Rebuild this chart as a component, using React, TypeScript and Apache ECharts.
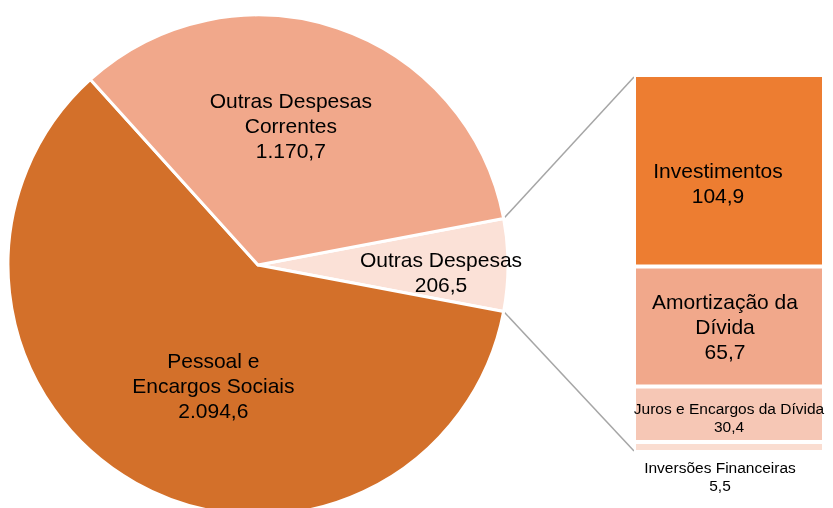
import React, { useEffect, useRef } from "react";
import * as echarts from "echarts";

const pieNames = ["Outras Despesas", "Pessoal e\nEncargos Sociais", "Outras Despesas\nCorrentes"];
const pieValues = [206.5, 2094.6, 1170.7];
const pieColors = ["#FBE1D7", "#D3702A", "#F1A88B"];

const barNames = ["Inversões Financeiras", "Juros e Encargos da Dívida", "Amortização da\nDívida", "Investimentos"];
const barValues = [5.5, 30.4, 65.7, 104.9];
const barColors = ["#FADDD1", "#F6C7B5", "#F1A88B", "#ED7D31"];

const FONT = "'Liberation Sans', Arial, sans-serif";

function fmt(v: number): string {
  const [i, d] = v.toFixed(1).split(".");
  const withDots = i.replace(/\B(?=(\d{3})+(?!\d))/g, ".");
  return withDots + "," + d;
}

export default function App() {
  const ref = useRef<HTMLDivElement>(null);
  useEffect(() => {
    if (!ref.current) return;
    const chart = echarts.init(ref.current, null, { renderer: "svg" });
    const total = pieValues.reduce((a, b) => a + b, 0);
    const half = (pieValues[0] / total) * 180;
    const cx = 258, cy = 265, r = 250;
    const gridLeft = 634, gridTop = 75, gridH = 377, gridW = 190;
    const a = (half * Math.PI) / 180;
    const ex = cx + r * Math.cos(a);
    const eyTop = cy - r * Math.sin(a);
    const eyBot = cy + r * Math.sin(a);

    const pieOffsets = [
      [55, 7],
      [18, 9],
      [-8, -18],
    ];
    const barOffsets: any[] = [[-9, -2], [0, 3], [-4, 0], [-11, 12]];

    const option: any = {
      animation: false,
      grid: { left: gridLeft, top: gridTop, width: gridW, height: gridH },
      xAxis: { type: "category", data: ["Outras Despesas"], show: false },
      yAxis: { type: "value", min: 0, max: pieValues[0], show: false },
      graphic: [
        { type: "line", shape: { x1: ex, y1: eyTop, x2: gridLeft, y2: gridTop + 2 }, style: { stroke: "#A6A6A6", lineWidth: 1.5 } },
        { type: "line", shape: { x1: ex, y1: eyBot, x2: gridLeft, y2: gridTop + gridH - 1 }, style: { stroke: "#A6A6A6", lineWidth: 1.5 } },
      ],
      series: [
        {
          type: "pie",
          center: [cx, cy],
          radius: r,
          startAngle: half,
          clockwise: true,
          silent: true,
          emphasis: { disabled: true },
          itemStyle: { borderColor: "#fff", borderWidth: 3 },
          label: {
            show: true,
            position: "inside",
            color: "#000",
            fontFamily: FONT,
            fontSize: 21,
            lineHeight: 25,
            formatter: (p: any) => p.name + "\n" + fmt(p.value),
          },
          labelLine: { show: false },
          labelLayout: (p: any) => ({ dx: pieOffsets[p.dataIndex][0], dy: pieOffsets[p.dataIndex][1] }),
          data: pieNames.map((n, i) => ({ name: n, value: pieValues[i], itemStyle: { color: pieColors[i] } })),
        },
        ...barNames.map((n, i) => ({
          type: "bar",
          name: n,
          stack: "od",
          barWidth: "100%",
          silent: true,
          itemStyle: { color: barColors[i], borderColor: "#fff", borderWidth: 2 },
          label: {
            show: true,
            position: i === 0 ? "bottom" : "inside",
            distance: 8,
            offset: barOffsets[i],
            color: "#000",
            fontFamily: FONT,
            fontSize: i < 2 ? 15.5 : 21,
            lineHeight: i < 2 ? 18 : 25,
            formatter: () => n + "\n" + fmt(barValues[i]),
          },
          data: [barValues[i]],
        })),
      ],
    };
    chart.setOption(option);
    return () => chart.dispose();
  }, []);
  return <div ref={ref} style={{ position: "fixed", left: 0, top: 0, width: 833, height: 508 }} />;
}
